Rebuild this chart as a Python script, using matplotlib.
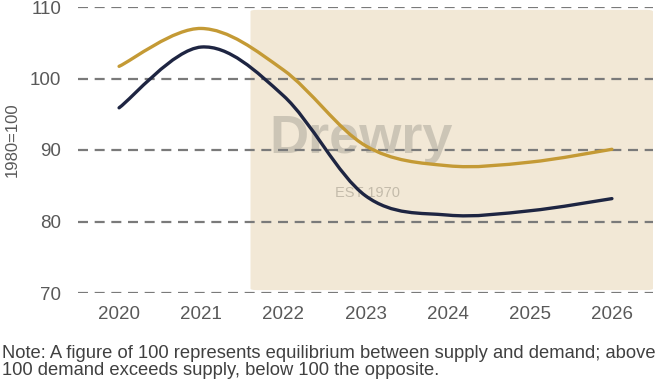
import matplotlib
matplotlib.use("Agg")
import matplotlib.pyplot as plt
from matplotlib.path import Path
from matplotlib.patches import PathPatch, FancyBboxPatch

plt.rcParams['font.family'] = ['Liberation Sans', 'DejaVu Sans']

years = [2020, 2021, 2022, 2023, 2024, 2025, 2026]
series_gold = [101.7, 107.0, 101.2, 90.6, 87.8, 88.3, 90.1]
series_navy = [95.9, 104.4, 97.6, 83.6, 80.9, 81.5, 83.2]
yticks = [70, 80, 90, 100, 110]
xtick_labels = ['2020', '2021', '2022', '2023', '2024', '2025', '2026']
ylabel = '1980=100'
note = ('Note: A figure of 100 represents equilibrium between supply and demand; above\n'
        '100 demand exceeds supply, below 100 the opposite.')

GOLD = '#C49A35'
NAVY = '#1E2542'


def smooth_path(xs, ys, tension=1/6):
    verts = [(xs[0], ys[0])]
    codes = [Path.MOVETO]
    n = len(xs)
    for i in range(n - 1):
        x0, y0 = (xs[i - 1], ys[i - 1]) if i > 0 else (xs[i], ys[i])
        x1, y1 = xs[i], ys[i]
        x2, y2 = xs[i + 1], ys[i + 1]
        x3, y3 = (xs[i + 2], ys[i + 2]) if i + 2 < n else (xs[i + 1], ys[i + 1])
        c1 = (x1 + (x2 - x0) * tension, y1 + (y2 - y0) * tension)
        c2 = (x2 - (x3 - x1) * tension, y2 - (y3 - y1) * tension)
        verts += [c1, c2, (x2, y2)]
        codes += [Path.CURVE4] * 3
    return Path(verts, codes)


fig = plt.figure(figsize=(6.7, 3.8), dpi=100)
ax = fig.add_axes([78 / 670, 87 / 380, 575 / 670, 286 / 380])

ax.set_xlim(2019.5, 2026.5)
ax.set_ylim(70, 110)

# forecast shading
shade = FancyBboxPatch((2021.6, 70.4), 2026.5 - 2021.6, 109.6 - 70.4,
                       boxstyle='round,pad=0,rounding_size=0.08',
                       mutation_aspect=2.85,
                       facecolor='#F2E8D6', edgecolor='none', zorder=0,
                       clip_on=False)
ax.add_patch(shade)

# watermark
ax.text(2022.95, 91.6, 'Drewry', fontsize=39, fontweight='bold',
        color='#A8A398', alpha=0.5, ha='center', va='center', zorder=1)
ax.text(2023.02, 84.0, 'EST 1970', fontsize=10.5, color='#B8B0A0',
        alpha=0.8, ha='center', va='center', zorder=1)

for yv in yticks:
    ax.axhline(yv, color='#7A7A7A', lw=1.6, ls=(0, (4.5, 3)), zorder=2)

ax.add_patch(PathPatch(smooth_path(years, series_gold), facecolor='none',
                       edgecolor=GOLD, lw=2.4, capstyle='round', zorder=3))
ax.add_patch(PathPatch(smooth_path(years, series_navy), facecolor='none',
                       edgecolor=NAVY, lw=2.4, capstyle='round', zorder=3))

ax.set_xticks(years)
ax.set_xticklabels(xtick_labels)
ax.set_yticks(yticks)
ax.tick_params(axis='both', length=0, labelsize=13.5, labelcolor='#595959')
ax.tick_params(axis='x', pad=9.5)
ax.tick_params(axis='y', pad=12)
for s in ax.spines.values():
    s.set_visible(False)
ax.set_facecolor('none')

fig.text(12 / 670, 1 - 140 / 380, ylabel, rotation=90, fontsize=12,
         color='#595959', ha='center', va='center')
fig.text(2 / 670, 1 - 362 / 380, note, fontsize=13.2, color='#404040',
         ha='left', va='center', linespacing=1.0)

fig.savefig('out.png', dpi=100)
